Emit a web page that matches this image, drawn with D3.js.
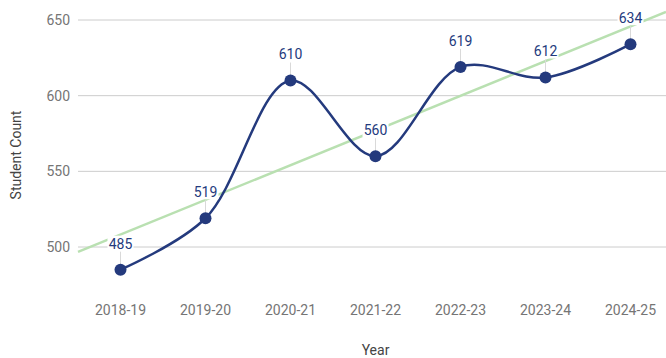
<!DOCTYPE html>
<html>
<head>
<meta charset="utf-8">
<script src="https://cdn.jsdelivr.net/npm/d3@7"></script>
<style>
  html, body { margin: 0; padding: 0; background: #fff; }
  svg { display: block; font-family: Roboto, "Noto Sans", sans-serif; }
</style>
</head>
<body>
<svg id="chart" width="666" height="358"></svg>
<script>
// Enrollment by school year
const years = ["2018-19", "2019-20", "2020-21", "2021-22", "2022-23", "2023-24", "2024-25"];
const students = [485, 519, 610, 560, 619, 612, 634];
const yTicks = [500, 550, 600, 650];

const svg = d3.select("#chart");
const left = 78, right = 673;          // plot area (extends slightly past the window)
const bandW = (right - left) / years.length;

const x = d3.scalePoint().domain(years).range([left + bandW / 2, right - bandW / 2]);
const y = d3.scaleLinear().domain([500, 650]).range([247, 20]);

// gridlines + y tick labels
const grid = svg.append("g");
grid.selectAll("line").data(yTicks).join("line")
  .attr("x1", left).attr("x2", 666)
  .attr("y1", d => y(d)).attr("y2", d => y(d))
  .attr("stroke", "#cccccc").attr("stroke-width", 1);
grid.selectAll("text").data(yTicks).join("text")
  .attr("x", 70).attr("y", d => y(d)).attr("dy", "0.35em")
  .attr("text-anchor", "end").attr("font-size", 14).attr("fill", "#757575")
  .text(d => d);

// x tick labels
svg.append("g").selectAll("text").data(years).join("text")
  .attr("x", d => x(d)).attr("y", 315)
  .attr("text-anchor", "middle").attr("font-size", 14).attr("fill", "#757575")
  .text(d => d);

// axis titles
svg.append("text").attr("x", (left + right) / 2).attr("y", 355)
  .attr("text-anchor", "middle").attr("font-size", 14).attr("fill", "#444")
  .text("Year");
svg.append("text")
  .attr("transform", `translate(21,${(20 + 290) / 2}) rotate(-90)`)
  .attr("text-anchor", "middle").attr("font-size", 14).attr("fill", "#444")
  .text("Student Count");

// least-squares trend line across the full plot width
const n = students.length;
const idx = d3.range(n);
const mx = d3.mean(idx), my = d3.mean(students);
const slope = d3.sum(idx, i => (i - mx) * (students[i] - my)) / d3.sum(idx, i => (i - mx) ** 2);
const intercept = my - slope * mx;
const xToIdx = px => (px - x(years[0])) / x.step();
const trendAt = px => intercept + slope * xToIdx(px);
svg.append("line")
  .attr("x1", left).attr("y1", y(trendAt(left)))
  .attr("x2", 666).attr("y2", y(trendAt(666)))
  .attr("stroke", "#b9e0b1").attr("stroke-width", 2.5);

const pts = years.map((yr, i) => ({ yr, v: students[i] }));

// leader stems from points to labels
svg.append("g").selectAll("line").data(pts).join("line")
  .attr("x1", d => x(d.yr)).attr("x2", d => x(d.yr))
  .attr("y1", d => y(d.v)).attr("y2", d => y(d.v) - 18)
  .attr("stroke", "#d9d9d9").attr("stroke-width", 1);

// smooth series line
svg.append("path").datum(pts)
  .attr("fill", "none").attr("stroke", "#243a7d").attr("stroke-width", 2.5)
  .attr("d", d3.line().x(d => x(d.yr)).y(d => y(d.v)).curve(d3.curveCatmullRom.alpha(0.5)));

// points
svg.append("g").selectAll("circle").data(pts).join("circle")
  .attr("cx", d => x(d.yr)).attr("cy", d => y(d.v)).attr("r", 6)
  .attr("fill", "#243a7d");

// value labels with white backing
const lab = svg.append("g").selectAll("g").data(pts).join("g")
  .attr("transform", d => `translate(${x(d.yr)},${y(d.v) - 26})`);
lab.append("rect").attr("x", -13).attr("y", -8).attr("width", 26).attr("height", 15)
  .attr("fill", "#fff");
lab.append("text").attr("text-anchor", "middle").attr("dy", "0.35em")
  .attr("font-size", 14).attr("fill", "#243a7d")
  .text(d => d.v);
</script>
</body>
</html>
